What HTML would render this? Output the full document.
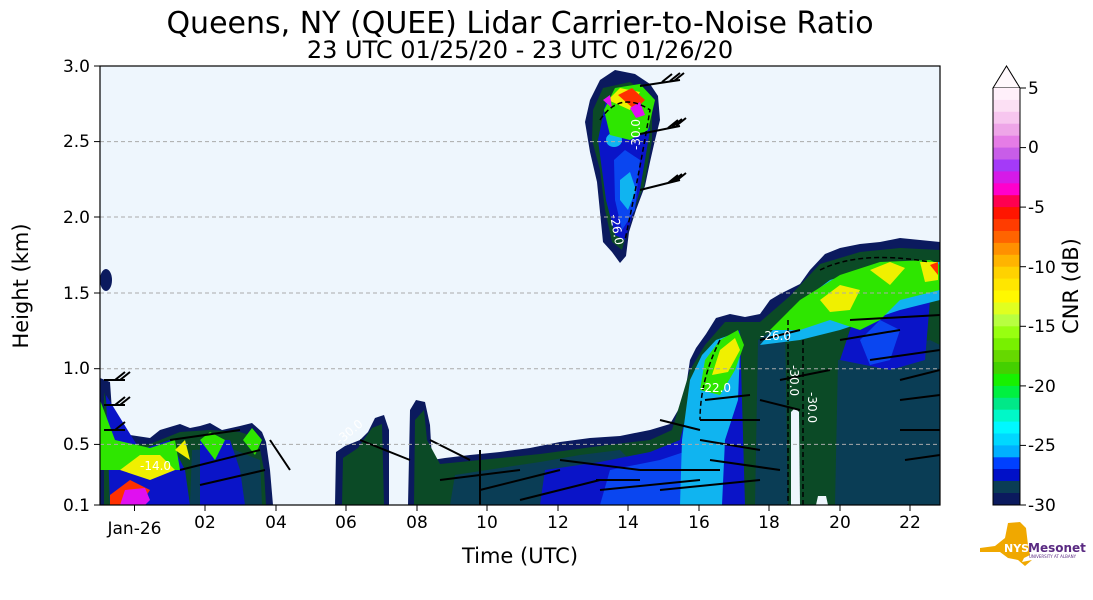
<!DOCTYPE html>
<html><head><meta charset="utf-8"><style>
html,body{margin:0;padding:0;background:#fff;}
svg{display:block;font-family:"DejaVu Sans","Liberation Sans",sans-serif;}
</style></head><body>
<svg width="1093" height="600" viewBox="0 0 1093 600" xmlns="http://www.w3.org/2000/svg">
<rect width="1093" height="600" fill="#fff"/>
<text x="520" y="33" font-size="30" text-anchor="middle" fill="#000">Queens, NY (QUEE) Lidar Carrier-to-Noise Ratio</text>
<text x="520" y="58" font-size="24" text-anchor="middle" fill="#000">23 UTC 01/25/20 - 23 UTC 01/26/20</text>
<defs><clipPath id="pc"><rect x="100" y="66" width="840" height="439"/></clipPath></defs>
<rect x="100" y="66" width="840" height="439" fill="#eef6fd"/>
<g clip-path="url(#pc)">
<g fill="#0b1a5e">
<path d="M100,505 L100,378 110,382 114,440 130,435 150,438 160,430 180,424 190,428 200,426 210,423 222,430 240,426 252,423 262,432 266,442 270,470 273,505 Z"/>
<ellipse cx="106" cy="280" rx="6" ry="11"/>
<path d="M335,505 L336,452 345,446 360,440 368,432 375,418 384,415 389,430 389,505 Z"/>
<path d="M408,505 L410,410 416,400 425,402 430,425 432,460 445,458 470,455 500,452 530,448 560,442 590,438 620,436 650,430 670,424 684,400 690,360 696,348 706,334 716,318 730,314 745,317 760,314 770,300 780,294 790,289 800,284 810,270 825,254 840,248 860,244 880,242 900,238 920,240 940,242 L940,505 Z"/>
<path d="M590,100 L600,80 615,70 635,74 650,84 658,96 660,120 655,140 650,162 645,186 636,210 629,232 626,256 620,263 612,252 603,242 600,212 597,182 590,152 585,122 Z"/>
</g>
<g fill="#0b4a26">
<path d="M104,505 L104,392 116,445 150,444 180,432 210,430 240,432 258,438 264,470 266,505 Z"/>
<path d="M342,505 L343,458 358,448 372,428 382,424 384,505 Z"/>
<path d="M414,505 L415,420 424,410 427,440 440,464 480,460 540,454 600,446 650,440 672,430 690,370 705,345 725,322 760,322 790,296 820,264 860,252 900,248 940,250 L940,505 Z"/>
<path d="M593,110 L603,88 630,82 652,96 652,140 644,186 630,220 622,250 612,242 605,210 600,170 592,140 Z"/>
</g>
<g fill="#0a3d55">
<path d="M450,505 L455,475 500,468 540,462 580,455 620,450 640,470 640,505 Z"/>
<path d="M755,505 L758,340 785,322 788,505 Z"/>
<path d="M835,505 L838,360 880,350 930,340 940,345 L940,505 Z"/>
<path d="M190,505 L192,450 230,448 260,460 262,505 Z"/>
</g>
<g fill="#0a14c8">
<path d="M540,505 L545,470 600,462 650,452 680,440 690,400 700,360 740,330 745,505 Z"/>
<path d="M598,140 L606,100 640,95 650,130 640,190 625,240 615,235 606,200 Z"/>
<path d="M200,505 L200,440 230,440 240,470 245,505 Z"/>
<path d="M840,360 L860,300 900,290 930,300 925,360 890,370 Z"/>
<path d="M110,505 L106,395 140,450 170,440 185,470 190,505 Z"/>
</g>
<g fill="#0a46f0">
<path d="M600,505 L610,470 660,460 690,450 695,505 Z"/>
<path d="M614,160 L625,150 640,160 635,210 622,230 615,200 Z"/>
<path d="M860,340 L880,320 900,330 890,360 870,365 Z"/>
</g>
<g fill="#10b4f0">
<path d="M680,505 L682,440 690,380 702,355 716,340 730,335 740,350 738,400 725,440 722,505 Z"/>
<path d="M620,180 L630,172 636,190 628,210 620,200 Z"/>
<ellipse cx="614" cy="140" rx="8" ry="7"/>
<path d="M760,345 L790,310 830,280 880,265 930,262 940,262 L940,300 900,310 870,320 840,330 800,340 Z"/>
</g>
<g fill="#2ee600">
<path d="M700,390 L705,360 720,340 738,330 744,345 735,370 720,395 Z"/>
<path d="M770,330 L800,300 840,275 880,262 930,260 940,265 L940,290 900,300 880,320 860,330 830,320 800,330 Z"/>
<path d="M100,470 L100,400 115,440 150,448 175,440 180,470 Z"/>
<path d="M604,110 L615,88 640,84 655,100 648,130 630,140 610,135 Z"/>
<path d="M200,440 L210,432 225,440 215,460 Z"/>
<path d="M243,440 L252,428 262,440 255,455 Z"/>
</g>
<g fill="#f0f000">
<path d="M712,375 L720,350 735,338 740,350 728,372 Z"/>
<path d="M820,300 L840,285 860,290 850,310 830,312 Z"/>
<path d="M870,270 L890,262 905,268 890,285 Z"/>
<path d="M920,262 L938,262 938,280 925,282 Z"/>
<path d="M120,470 L140,455 160,455 175,470 150,480 Z"/>
<path d="M608,100 L620,88 640,92 630,110 Z"/>
<path d="M175,450 L185,440 190,460 Z"/>
</g>
<g fill="#ff3000">
<path d="M618,95 L632,88 645,100 635,110 Z"/>
<path d="M110,495 L130,480 150,490 140,505 110,505 Z"/>
<path d="M930,265 L938,262 938,275 Z"/>
</g>
<g fill="#e010f0">
<path d="M630,108 L640,102 645,115 636,118 Z"/>
<path d="M120,505 L125,490 145,488 150,500 145,505 Z"/>
<path d="M603,100 L610,95 612,108 Z"/>
</g>
<!-- gaps -->
<path d="M791,505 L791,412 795,408 799,412 800,505 Z" fill="#eef6fd"/>
<path d="M816,505 L818,496 826,496 828,505 Z" fill="#eef6fd"/>
<g stroke="#000" stroke-width="2" fill="none">
<path d="M640,86 L680,80 M670,81 l10,-8 M674,81 l10,-8 M662,82 l10,-8"/>
<path d="M640,134 L680,126 M668,128 l10,-8 M672,127 l10,-8 M676,126 l10,-8"/>
<path d="M640,190 L680,180 M668,183 l10,-8 M672,182 l10,-8 M676,181 l10,-8"/>
<path d="M104,380 L125,380 M115,380 l10,-8 M120,380 l10,-8"/>
<path d="M104,405 L125,405 M115,405 l10,-8 M120,405 l10,-8"/>
<path d="M104,430 L125,430 M115,430 l10,-8"/>
<path d="M170,440 L240,430 M180,470 L260,450 M200,485 L265,470 M270,440 L290,470"/>
<path d="M360,440 L410,460 M430,440 L470,460 M440,480 L520,470 M480,490 L560,470 M520,500 L600,480"/>
<path d="M560,460 L640,470 M600,490 L700,480 M640,470 L720,470 M660,490 L760,480 M700,420 L760,420 M700,440 L760,450 M705,400 L750,395 M710,460 L780,470"/>
<path d="M760,340 L800,330 M780,380 L830,370 M760,400 L800,410 M850,320 L940,315 M870,360 L940,350 M900,380 L940,370 M900,400 L940,395 M900,430 L940,430 M905,460 L940,455 M840,340 L900,330"/>
<path d="M480,450 L480,505 M596,480 L640,480 M660,420 L700,430"/>
</g>
<g stroke="#000" stroke-width="1.5" stroke-dasharray="5,3" fill="none">
<path d="M600,120 Q620,90 650,110 Q640,170 625,240"/>
<path d="M720,340 Q700,380 700,420 M820,270 Q860,250 930,262"/>
<path d="M788,320 L788,505 M803,340 L803,505"/>
</g>
<g fill="#fff" font-size="12">
<text x="760" y="340">-26.0</text>
<text x="790" y="365" transform="rotate(90 790 365)">-30.0</text>
<text x="808" y="392" transform="rotate(90 808 392)">-30.0</text>
<text x="700" y="392">-22.0</text>
<text x="640" y="150" transform="rotate(-90 640 150)">-30.0</text>
<text x="340" y="445" transform="rotate(-40 340 445)">-30.0</text>
<text x="140" y="470">-14.0</text>
<text x="610" y="215" transform="rotate(80 610 215)">-26.0</text>
</g>
</g>
<g stroke="#aaa" stroke-width="1" stroke-dasharray="4,3">
<line x1="100" y1="141.6" x2="940" y2="141.6"/>
<line x1="100" y1="217" x2="940" y2="217"/>
<line x1="100" y1="293" x2="940" y2="293"/>
<line x1="100" y1="368.7" x2="940" y2="368.7"/>
<line x1="100" y1="444.4" x2="940" y2="444.4"/>
</g>
<rect x="100" y="66" width="840" height="439" fill="none" stroke="#000" stroke-width="1.2"/>
<g stroke="#000" stroke-width="1">
<line x1="94" y1="66" x2="100" y2="66"/><line x1="94" y1="141.6" x2="100" y2="141.6"/><line x1="94" y1="217" x2="100" y2="217"/><line x1="94" y1="293" x2="100" y2="293"/><line x1="94" y1="368.7" x2="100" y2="368.7"/><line x1="94" y1="444.4" x2="100" y2="444.4"/><line x1="94" y1="505" x2="100" y2="505"/>
<line x1="134.5" y1="505" x2="134.5" y2="511"/><line x1="205" y1="505" x2="205" y2="511"/><line x1="276" y1="505" x2="276" y2="511"/><line x1="346" y1="505" x2="346" y2="511"/><line x1="417" y1="505" x2="417" y2="511"/><line x1="487" y1="505" x2="487" y2="511"/><line x1="558" y1="505" x2="558" y2="511"/><line x1="628" y1="505" x2="628" y2="511"/><line x1="699" y1="505" x2="699" y2="511"/><line x1="769" y1="505" x2="769" y2="511"/><line x1="840" y1="505" x2="840" y2="511"/><line x1="910" y1="505" x2="910" y2="511"/>
</g>
<g font-size="17" fill="#000" text-anchor="end">
<text x="90" y="72">3.0</text><text x="90" y="147">2.5</text><text x="90" y="223">2.0</text><text x="90" y="299">1.5</text><text x="90" y="374">1.0</text><text x="90" y="450">0.5</text><text x="90" y="511">0.1</text>
</g>
<g font-size="17" fill="#000" text-anchor="middle">
<text x="134.5" y="534">Jan-26</text><text x="205" y="528">02</text><text x="276" y="528">04</text><text x="346" y="528">06</text><text x="417" y="528">08</text><text x="487" y="528">10</text><text x="558" y="528">12</text><text x="628" y="528">14</text><text x="699" y="528">16</text><text x="769" y="528">18</text><text x="840" y="528">20</text><text x="910" y="528">22</text>
</g>
<text x="520" y="563" font-size="21" text-anchor="middle">Time (UTC)</text>
<text x="28" y="286" font-size="21" text-anchor="middle" transform="rotate(-90 28 286)">Height (km)</text>
<g>
<path d="M993,88 L1006.5,66 L1020,88 Z" fill="#fff8fc" stroke="#000" stroke-width="1"/>
<rect x="993" y="88.0" width="27" height="12.4" fill="#fff0fa"/>
<rect x="993" y="99.9" width="27" height="12.4" fill="#fce0f4"/>
<rect x="993" y="111.8" width="27" height="12.4" fill="#f7c6ef"/>
<rect x="993" y="123.7" width="27" height="12.4" fill="#eea5e8"/>
<rect x="993" y="135.7" width="27" height="12.4" fill="#e57ce6"/>
<rect x="993" y="147.6" width="27" height="12.4" fill="#c85de8"/>
<rect x="993" y="159.5" width="27" height="12.4" fill="#a43af8"/>
<rect x="993" y="171.4" width="27" height="12.4" fill="#d51ae8"/>
<rect x="993" y="183.3" width="27" height="12.4" fill="#ff00cc"/>
<rect x="993" y="195.2" width="27" height="12.4" fill="#ff0050"/>
<rect x="993" y="207.1" width="27" height="12.4" fill="#ff1500"/>
<rect x="993" y="219.1" width="27" height="12.4" fill="#ff3c00"/>
<rect x="993" y="231.0" width="27" height="12.4" fill="#ff6400"/>
<rect x="993" y="242.9" width="27" height="12.4" fill="#ff9000"/>
<rect x="993" y="254.8" width="27" height="12.4" fill="#ffb400"/>
<rect x="993" y="266.7" width="27" height="12.4" fill="#ffd200"/>
<rect x="993" y="278.6" width="27" height="12.4" fill="#ffe600"/>
<rect x="993" y="290.5" width="27" height="12.4" fill="#fff800"/>
<rect x="993" y="302.5" width="27" height="12.4" fill="#e0ff20"/>
<rect x="993" y="314.4" width="27" height="12.4" fill="#b8ff40"/>
<rect x="993" y="326.3" width="27" height="12.4" fill="#98ff10"/>
<rect x="993" y="338.2" width="27" height="12.4" fill="#78f000"/>
<rect x="993" y="350.1" width="27" height="12.4" fill="#66d800"/>
<rect x="993" y="362.0" width="27" height="12.4" fill="#44d000"/>
<rect x="993" y="373.9" width="27" height="12.4" fill="#18f000"/>
<rect x="993" y="385.9" width="27" height="12.4" fill="#00f040"/>
<rect x="993" y="397.8" width="27" height="12.4" fill="#00e888"/>
<rect x="993" y="409.7" width="27" height="12.4" fill="#00f8c8"/>
<rect x="993" y="421.6" width="27" height="12.4" fill="#00f8ff"/>
<rect x="993" y="433.5" width="27" height="12.4" fill="#00d8ff"/>
<rect x="993" y="445.4" width="27" height="12.4" fill="#00b0ff"/>
<rect x="993" y="457.3" width="27" height="12.4" fill="#0040ff"/>
<rect x="993" y="469.3" width="27" height="12" fill="#0010c8"/>
<rect x="993" y="481" width="27" height="12" fill="#0a3d55"/>
<rect x="993" y="493" width="27" height="12" fill="#0b4a26"/>
</g>
<rect x="993" y="469" width="27" height="12" fill="#0010c8"/>
<rect x="993" y="481" width="27" height="12" fill="#0a3d55"/>
<rect x="993" y="493" width="27" height="12" fill="#0b1a5e"/>
<path d="M993,88 L993,505 L1020,505 L1020,88" fill="none" stroke="#000" stroke-width="1"/>
<g stroke="#000"><line x1="1020" y1="88" x2="1026" y2="88"/><line x1="1020" y1="147.6" x2="1026" y2="147.6"/><line x1="1020" y1="207.1" x2="1026" y2="207.1"/><line x1="1020" y1="266.7" x2="1026" y2="266.7"/><line x1="1020" y1="326.3" x2="1026" y2="326.3"/><line x1="1020" y1="385.9" x2="1026" y2="385.9"/><line x1="1020" y1="445.4" x2="1026" y2="445.4"/><line x1="1020" y1="505" x2="1026" y2="505"/></g>
<g font-size="17" fill="#000">
<text x="1028" y="94">5</text><text x="1028" y="153">0</text><text x="1028" y="213">-5</text><text x="1028" y="273">-10</text><text x="1028" y="332">-15</text><text x="1028" y="392">-20</text><text x="1028" y="451">-25</text><text x="1028" y="511">-30</text>
</g>
<text x="1078" y="286" font-size="21" text-anchor="middle" transform="rotate(-90 1078 286)">CNR (dB)</text>
<path d="M980,548 L995,546 1005,538 1008,523 1020,522 1026,528 1028,545 1030,555 1024,558 1022,562 1032,560 1025,566 1018,560 1008,558 1000,552 980,552 Z" fill="#f0a800"/>
<text x="1004" y="552" font-size="11" font-weight="bold" fill="#fff">NYS</text>
<text x="1028" y="552" font-size="12" font-weight="bold" fill="#5a2a82">Mesonet</text>
<text x="1029" y="558" font-size="4" fill="#5a2a82">UNIVERSITY AT ALBANY</text>
</svg>
</body></html>
